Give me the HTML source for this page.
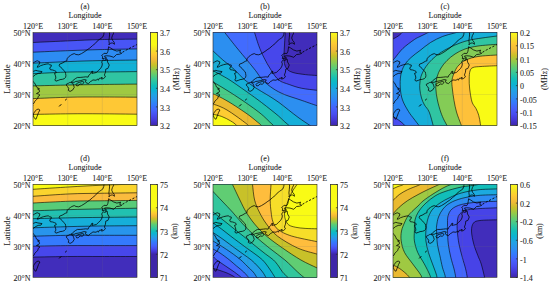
<!DOCTYPE html>
<html><head><meta charset="utf-8"><style>
html,body{margin:0;padding:0;background:#fff;width:550px;height:286px;overflow:hidden}
svg{display:block}
.t{font-family:"Liberation Serif",serif;font-size:8px;fill:#262626;stroke:#262626;stroke-width:0.08px}
</style></head><body>
<svg width="550" height="286" viewBox="0 0 550 286">
<rect width="550" height="286" fill="#fff"/>
<clipPath id="ca"><rect x="33" y="32.5" width="104" height="93"/></clipPath>
<g clip-path="url(#ca)">
<rect x="33" y="32.5" width="104" height="93" fill="#412dbb"/>
<path d="M29 42.68C29.67 42.65 26.17 42.81 33 42.5C39.83 42.19 58.83 41.28 70 40.8C81.17 40.32 88.83 39.88 100 39.6C111.17 39.32 130.17 39.19 137 39.1C143.83 39.01 140.33 39.05 141 39.05L141 130L29 130Z" fill="#4855f6"/>
<path d="M29 52.37C29.67 52.34 26.17 52.5 33 52.2C39.83 51.9 58.83 51.03 70 50.6C81.17 50.17 88.83 49.88 100 49.6C111.17 49.32 130.17 49.03 137 48.9C143.83 48.77 140.33 48.84 141 48.82L141 130L29 130Z" fill="#2d8cf3"/>
<path d="M29 63.38C29.67 63.35 26.17 63.51 33 63.2C39.83 62.89 58.83 61.93 70 61.5C81.17 61.07 88.83 60.85 100 60.6C111.17 60.35 130.17 60.11 137 60C143.83 59.89 140.33 59.95 141 59.94L141 130L29 130Z" fill="#11b1d6"/>
<path d="M29 73.88C29.67 73.85 26.17 74.01 33 73.7C39.83 73.39 58.83 72.28 70 72C81.17 71.72 88.83 72.07 100 72C111.17 71.93 130.17 71.67 137 71.6C143.83 71.53 140.33 71.56 141 71.56L141 130L29 130Z" fill="#30c5a2"/>
<path d="M29 86C29.67 85.98 26.17 86.07 33 85.9C39.83 85.73 58.83 85.23 70 85C81.17 84.77 88.83 84.65 100 84.5C111.17 84.35 130.17 84.17 137 84.1C143.83 84.03 140.33 84.06 141 84.06L141 130L29 130Z" fill="#9fc942"/>
<path d="M29 98.75C29.67 98.73 26.17 98.86 33 98.6C39.83 98.34 58.83 97.47 70 97.2C81.17 96.93 88.83 97 100 97C111.17 97 130.17 97.16 137 97.2C143.83 97.24 140.33 97.22 141 97.22L141 130L29 130Z" fill="#fec835"/>
<path d="M29 114.46C29.67 114.45 26.17 114.51 33 114.4C39.83 114.29 58.83 113.9 70 113.8C81.17 113.7 88.83 113.73 100 113.8C111.17 113.87 130.17 114.13 137 114.2C143.83 114.27 140.33 114.24 141 114.24L141 130L29 130Z" fill="#f9fb15"/>
<path d="M29 42.68C29.67 42.65 26.17 42.81 33 42.5C39.83 42.19 58.83 41.28 70 40.8C81.17 40.32 88.83 39.88 100 39.6C111.17 39.32 130.17 39.19 137 39.1C143.83 39.01 140.33 39.05 141 39.05M29 52.37C29.67 52.34 26.17 52.5 33 52.2C39.83 51.9 58.83 51.03 70 50.6C81.17 50.17 88.83 49.88 100 49.6C111.17 49.32 130.17 49.03 137 48.9C143.83 48.77 140.33 48.84 141 48.82M29 63.38C29.67 63.35 26.17 63.51 33 63.2C39.83 62.89 58.83 61.93 70 61.5C81.17 61.07 88.83 60.85 100 60.6C111.17 60.35 130.17 60.11 137 60C143.83 59.89 140.33 59.95 141 59.94M29 73.88C29.67 73.85 26.17 74.01 33 73.7C39.83 73.39 58.83 72.28 70 72C81.17 71.72 88.83 72.07 100 72C111.17 71.93 130.17 71.67 137 71.6C143.83 71.53 140.33 71.56 141 71.56M29 86C29.67 85.98 26.17 86.07 33 85.9C39.83 85.73 58.83 85.23 70 85C81.17 84.77 88.83 84.65 100 84.5C111.17 84.35 130.17 84.17 137 84.1C143.83 84.03 140.33 84.06 141 84.06M29 98.75C29.67 98.73 26.17 98.86 33 98.6C39.83 98.34 58.83 97.47 70 97.2C81.17 96.93 88.83 97 100 97C111.17 97 130.17 97.16 137 97.2C143.83 97.24 140.33 97.22 141 97.22M29 114.46C29.67 114.45 26.17 114.51 33 114.4C39.83 114.29 58.83 113.9 70 113.8C81.17 113.7 88.83 113.73 100 113.8C111.17 113.87 130.17 114.13 137 114.2C143.83 114.27 140.33 114.24 141 114.24" fill="none" stroke="#000" stroke-width="0.7" stroke-opacity="0.85"/>
<path d="M67.67 32.5V125.5M102.33 32.5V125.5M33 63.5H137M33 94.5H137" stroke="#707070" stroke-width="0.5" stroke-opacity="0.3" fill="none"/>
<path d="M29.53 108.76L31.61 107.83L31.27 106.28L33 105.35L32.31 104.11L34.04 103.18L34.73 101.32L36.47 99.77L37.85 98.22L38.2 96.36L39.93 95.12L38.2 93.88L36.47 93.57L39.59 91.71L39.24 90.16L37.51 88.92L39.59 88.92L36.47 87.06L35.77 85.2L34.39 82.72L31.96 80.55L30.23 79.62M31.27 77.45L33 76.52L34.04 75.9L35.43 74.66L38.2 73.42L40.97 73.11L42.01 71.56L39.93 71.25L37.85 70.94L35.77 70.32L33.69 71.25L32.31 72.18L29.53 72.49M29.53 65.05L32.31 63.5L34.73 61.95L37.16 60.71L39.93 61.95L39.24 64.12L38.2 65.36L37.16 67.22L38.55 66.91L40.63 65.67L43.4 64.74L46.17 64.12L48.25 63.81L49.64 64.74L51.37 65.05L51.03 66.91L49.64 67.84L50.33 69.7L52.76 70.01L54.49 70.63L55.88 71.25L56.23 72.8L54.49 73.42L55.53 75.9L55.88 78.07L54.84 79.93L55.88 81.17L58.65 80.24L60.04 79.62L62.47 79.31L64.2 78.69L65.59 77.45L65.93 75.59L65.59 73.42L65.24 71.87L63.51 70.32L62.12 68.46L60.04 66.6L59 65.67L59.69 64.12L62.12 63.19L65.24 61.33L66.97 60.71L66.97 58.85L69.05 56.37L70.44 55.44L71.83 54.51L74.25 53.58L75.99 54.51L78.76 54.82L81.53 53.58L85 51.41L87.08 49.86L89.85 48L92.63 45.52L95.4 43.35L97.13 41.18L99.56 39.32L102.68 37.15L103.72 34.67L104.07 32.5L104.76 30.02M108.92 30.02L109.61 34.05L109.27 37.77L108.92 40.87L109.27 43.35L108.92 44.9L110.65 43.04L112.73 43.04L114.47 44.28L114.12 42.11L112.73 40.56L111.69 38.08L112.39 35.6L113.43 33.74L113.77 30.02M102.33 58.85L102.68 56.68L101.64 55.44L103.37 54.2L104.07 53.27L106.84 53.58L107.88 51.41L108.23 49.55L108.57 46.76L110.65 48L113.43 49.86L116.89 51.1L120.71 50.17L119.67 52.34L121.75 53.27L119.67 54.2L116.55 54.51L113.77 57.3L109.96 56.06L106.49 55.75L104.41 56.06L105.45 57.3L106.49 57.92L104.41 58.23ZM107.19 59.16L107.53 61.95L109.27 65.05L107.88 68.46L105.8 69.08L105.45 72.18L104.41 74.97L105.45 76.83L103.72 78.38L101.64 79.15L101.99 77.14L101.29 78.07L99.21 78.38L98.35 80.24L97.48 79L96.09 80.24L92.63 79.93L91.59 81.17L90.55 81.48L88.47 83.65L86.04 82.72L85.35 81.17L86.39 79.93L83.96 79.62L80.84 80.55L78.07 81.17L75.64 81.48L74.25 82.25L71.13 82.25L72.52 80.86L75.29 78.69L77.37 77.45L80.15 77.45L83.27 77.14L85.69 76.83L88.12 77.14L88.81 75.28L90.89 73.42L91.59 71.56L92.97 71.25L91.93 73.42L93.67 73.11L96.44 72.49L98.52 70.32L100.6 68.46L101.99 65.98L102.33 63.81L101.64 61.95L103.37 59.78L104.76 60.4L106.15 59.78L105.45 58.85ZM70.79 82.41L72.87 83.34L73.56 85.2L74.25 87.37L72.52 90.16L70.09 91.4L68.36 90.47L68.71 88.3L67.67 86.75L66.63 85.82L66.28 84.27L68.36 83.34L69.75 82.41ZM75.99 84.58L77.37 83.03L79.8 82.25L82.23 81.48L83.96 82.1L83.96 82.72L82.23 84.27L80.15 83.96L78.07 85.82L76.68 85.82ZM38.2 109.07L39.93 110L38.55 112.48L37.16 116.2L35.95 119.3L34.04 117.75L33.35 115.58L33.69 113.1L35.43 110.93L36.47 109.69Z" fill="none" stroke="#000" stroke-width="0.75" stroke-linejoin="round"/>
<path d="M122.44 52.34L126.6 49.86L131.45 47.38L135.61 45.21L140.47 43.04" fill="none" stroke="#000" stroke-width="0.9" stroke-dasharray="2.2 1.6"/>
<path d="M59.44 106.13L60.99 104.57M65.47 100L66.39 99.23" fill="none" stroke="#000" stroke-width="1" stroke-linecap="round"/>
</g>
<rect x="33" y="32.5" width="104" height="93" fill="none" stroke="#262626" stroke-width="0.6"/>
<linearGradient id="ga" x1="0" y1="1" x2="0" y2="0"><stop offset="0" stop-color="#3e26a8"/><stop offset="0.05" stop-color="#4536d5"/><stop offset="0.11" stop-color="#484cef"/><stop offset="0.16" stop-color="#4562fc"/><stop offset="0.22" stop-color="#347afd"/><stop offset="0.27" stop-color="#2c90f0"/><stop offset="0.33" stop-color="#21a3e3"/><stop offset="0.38" stop-color="#0cb3d3"/><stop offset="0.43" stop-color="#12beb9"/><stop offset="0.49" stop-color="#34c79c"/><stop offset="0.54" stop-color="#5ccc76"/><stop offset="0.6" stop-color="#94ca4a"/><stop offset="0.65" stop-color="#c8c129"/><stop offset="0.71" stop-color="#f1ba37"/><stop offset="0.76" stop-color="#feca33"/><stop offset="0.82" stop-color="#f5e327"/><stop offset="0.87" stop-color="#f9fb15"/><stop offset="1" stop-color="#f9fb15"/></linearGradient>
<rect x="150.5" y="32.5" width="7" height="93" fill="url(#ga)" stroke="#333" stroke-width="0.8"/>
<text x="160.1" y="129.1" class="t">3.2</text>
<text x="160.1" y="110.5" class="t">3.3</text>
<text x="160.1" y="91.9" class="t">3.4</text>
<text x="160.1" y="73.3" class="t">3.5</text>
<text x="160.1" y="54.7" class="t">3.6</text>
<text x="160.1" y="36.1" class="t">3.7</text>
<path d="M157.5 125.5h-1.6M157.5 106.9h-1.6M157.5 88.3h-1.6M157.5 69.7h-1.6M157.5 51.1h-1.6M157.5 32.5h-1.6" stroke="#262626" stroke-width="0.7"/>
<text transform="translate(178.8 79) rotate(-90)" text-anchor="middle" class="t">(MHz)</text>
<text x="85" y="8.9" text-anchor="middle" class="t">(a)</text>
<text x="85" y="17.8" text-anchor="middle" class="t">Longitude</text>
<text x="33" y="28.8" text-anchor="middle" class="t">120°E</text>
<text x="67.67" y="28.8" text-anchor="middle" class="t">130°E</text>
<text x="102.33" y="28.8" text-anchor="middle" class="t">140°E</text>
<text x="137" y="28.8" text-anchor="middle" class="t">150°E</text>
<text x="30.6" y="36.35" text-anchor="end" class="t">50°N</text>
<text x="30.6" y="67.35" text-anchor="end" class="t">40°N</text>
<text x="30.6" y="98.35" text-anchor="end" class="t">30°N</text>
<text x="30.6" y="129.35" text-anchor="end" class="t">20°N</text>
<text transform="translate(10.2 79) rotate(-90)" text-anchor="middle" class="t" style="font-size:8.8px">Latitude</text>
<clipPath id="cb"><rect x="213" y="32.5" width="104" height="93"/></clipPath>
<g clip-path="url(#cb)">
<rect x="213" y="32.5" width="104" height="93" fill="#412dbb"/>
<path d="M285.5 29C285.33 31.67 284.75 39.83 284.5 45C284.25 50.17 283.67 56.08 284 60C284.33 63.92 285 66.42 286.5 68.5C288 70.58 289.85 71.48 293 72.5C296.15 73.52 301.4 74.1 305.4 74.6C309.4 75.1 314.4 75.32 317 75.5C319.6 75.68 320.33 75.67 321 75.7L321 131L209 131L209 27L285.5 27Z" fill="#4747eb"/>
<path d="M253.5 29C254.37 31.75 256.95 40.72 258.7 45.5C260.45 50.28 261.95 53.62 264 57.7C266.05 61.78 268.55 66.28 271 70C273.45 73.72 275.67 77.58 278.7 80C281.73 82.42 285.43 83.13 289.2 84.5C292.97 85.87 296.67 87.23 301.3 88.2C305.93 89.17 313.72 89.87 317 90.3C320.28 90.73 320.33 90.72 321 90.8L321 131L209 131L209 27L253.5 27Z" fill="#426bfe"/>
<path d="M222 29C224.33 31.97 231.73 41.5 236 46.8C240.27 52.1 244.35 56.85 247.6 60.8C250.85 64.75 253 67.3 255.5 70.5C258 73.7 259.68 77 262.6 80C265.52 83 269.37 86.08 273 88.5C276.63 90.92 279.9 92.62 284.4 94.5C288.9 96.38 294.57 97.93 300 99.8C305.43 101.67 313.5 104.5 317 105.7C320.5 106.9 320.33 106.78 321 107L321 131L209 131L209 27L222 27Z" fill="#2c8ff0"/>
<path d="M209 47C209.67 47.65 210.68 48.73 213 50.9C215.32 53.07 219.33 56.9 222.9 60C226.47 63.1 230.93 66.33 234.4 69.5C237.87 72.67 240.27 76 243.7 79C247.13 82 250.9 84.75 255 87.5C259.1 90.25 264.3 93 268.3 95.5C272.3 98 275.62 100.08 279 102.5C282.38 104.92 285.27 107.42 288.6 110C291.93 112.58 295.43 115.42 299 118C302.57 120.58 307.67 123.83 310 125.5C312.33 127.17 312.5 127.58 313 128L321 131L209 131Z" fill="#16afd9"/>
<path d="M209 67.5C209.67 68 210.83 69.17 213 70.5C215.17 71.83 218.83 73.67 222 75.5C225.17 77.33 227.12 78.25 232 81.5C236.88 84.75 246.38 91.5 251.3 95C256.22 98.5 258.2 100 261.5 102.5C264.8 105 268.27 107.75 271.1 110C273.93 112.25 276.2 114 278.5 116C280.8 118 283.15 120.42 284.9 122C286.65 123.58 287.98 124.5 289 125.5C290.02 126.5 290.67 127.58 291 128L209 131Z" fill="#21c1b0"/>
<path d="M209 80C209.67 80.33 210.5 80.58 213 82C215.5 83.42 220.45 86.33 224 88.5C227.55 90.67 230.72 92.67 234.3 95C237.88 97.33 241.88 100 245.5 102.5C249.12 105 253 107.75 256 110C259 112.25 261.22 114 263.5 116C265.78 118 268.03 120.42 269.7 122C271.37 123.58 272.62 124.5 273.5 125.5C274.38 126.5 274.75 127.58 275 128L209 131Z" fill="#48cb86"/>
<path d="M209 93.5C209.67 93.58 211.67 93.67 213 94C214.33 94.33 214.33 94.17 217 95.5C219.67 96.83 224.93 99.58 229 102C233.07 104.42 237.9 107.67 241.4 110C244.9 112.33 247.33 114 250 116C252.67 118 255.48 120.42 257.4 122C259.32 123.58 260.57 124.5 261.5 125.5C262.43 126.5 262.75 127.58 263 128L209 131Z" fill="#eaba30"/>
<path d="M209 103.5C209.67 103.6 211.17 103.6 213 104.1C214.83 104.6 217.67 105.52 220 106.5C222.33 107.48 224.33 108.42 227 110C229.67 111.58 233.13 114 236 116C238.87 118 242.12 120.42 244.2 122C246.28 123.58 247.53 124.5 248.5 125.5C249.47 126.5 249.75 127.58 250 128L209 131Z" fill="#fdcc32"/>
<path d="M209 114C209.67 114.05 210.87 113.88 213 114.3C215.13 114.72 218.87 115.4 221.8 116.5C224.73 117.6 228.15 119.43 230.6 120.9C233.05 122.37 235.35 123.95 236.5 125.3C237.65 126.65 237.33 128.38 237.5 129L209 131Z" fill="#f9fb15"/>
<path d="M285.5 29C285.33 31.67 284.75 39.83 284.5 45C284.25 50.17 283.67 56.08 284 60C284.33 63.92 285 66.42 286.5 68.5C288 70.58 289.85 71.48 293 72.5C296.15 73.52 301.4 74.1 305.4 74.6C309.4 75.1 314.4 75.32 317 75.5C319.6 75.68 320.33 75.67 321 75.7M253.5 29C254.37 31.75 256.95 40.72 258.7 45.5C260.45 50.28 261.95 53.62 264 57.7C266.05 61.78 268.55 66.28 271 70C273.45 73.72 275.67 77.58 278.7 80C281.73 82.42 285.43 83.13 289.2 84.5C292.97 85.87 296.67 87.23 301.3 88.2C305.93 89.17 313.72 89.87 317 90.3C320.28 90.73 320.33 90.72 321 90.8M222 29C224.33 31.97 231.73 41.5 236 46.8C240.27 52.1 244.35 56.85 247.6 60.8C250.85 64.75 253 67.3 255.5 70.5C258 73.7 259.68 77 262.6 80C265.52 83 269.37 86.08 273 88.5C276.63 90.92 279.9 92.62 284.4 94.5C288.9 96.38 294.57 97.93 300 99.8C305.43 101.67 313.5 104.5 317 105.7C320.5 106.9 320.33 106.78 321 107M209 47C209.67 47.65 210.68 48.73 213 50.9C215.32 53.07 219.33 56.9 222.9 60C226.47 63.1 230.93 66.33 234.4 69.5C237.87 72.67 240.27 76 243.7 79C247.13 82 250.9 84.75 255 87.5C259.1 90.25 264.3 93 268.3 95.5C272.3 98 275.62 100.08 279 102.5C282.38 104.92 285.27 107.42 288.6 110C291.93 112.58 295.43 115.42 299 118C302.57 120.58 307.67 123.83 310 125.5C312.33 127.17 312.5 127.58 313 128M209 67.5C209.67 68 210.83 69.17 213 70.5C215.17 71.83 218.83 73.67 222 75.5C225.17 77.33 227.12 78.25 232 81.5C236.88 84.75 246.38 91.5 251.3 95C256.22 98.5 258.2 100 261.5 102.5C264.8 105 268.27 107.75 271.1 110C273.93 112.25 276.2 114 278.5 116C280.8 118 283.15 120.42 284.9 122C286.65 123.58 287.98 124.5 289 125.5C290.02 126.5 290.67 127.58 291 128M209 80C209.67 80.33 210.5 80.58 213 82C215.5 83.42 220.45 86.33 224 88.5C227.55 90.67 230.72 92.67 234.3 95C237.88 97.33 241.88 100 245.5 102.5C249.12 105 253 107.75 256 110C259 112.25 261.22 114 263.5 116C265.78 118 268.03 120.42 269.7 122C271.37 123.58 272.62 124.5 273.5 125.5C274.38 126.5 274.75 127.58 275 128M209 93.5C209.67 93.58 211.67 93.67 213 94C214.33 94.33 214.33 94.17 217 95.5C219.67 96.83 224.93 99.58 229 102C233.07 104.42 237.9 107.67 241.4 110C244.9 112.33 247.33 114 250 116C252.67 118 255.48 120.42 257.4 122C259.32 123.58 260.57 124.5 261.5 125.5C262.43 126.5 262.75 127.58 263 128M209 103.5C209.67 103.6 211.17 103.6 213 104.1C214.83 104.6 217.67 105.52 220 106.5C222.33 107.48 224.33 108.42 227 110C229.67 111.58 233.13 114 236 116C238.87 118 242.12 120.42 244.2 122C246.28 123.58 247.53 124.5 248.5 125.5C249.47 126.5 249.75 127.58 250 128M209 114C209.67 114.05 210.87 113.88 213 114.3C215.13 114.72 218.87 115.4 221.8 116.5C224.73 117.6 228.15 119.43 230.6 120.9C233.05 122.37 235.35 123.95 236.5 125.3C237.65 126.65 237.33 128.38 237.5 129" fill="none" stroke="#000" stroke-width="0.7" stroke-opacity="0.85"/>
<path d="M247.67 32.5V125.5M282.33 32.5V125.5M213 63.5H317M213 94.5H317" stroke="#707070" stroke-width="0.5" stroke-opacity="0.3" fill="none"/>
<path d="M209.53 108.76L211.61 107.83L211.27 106.28L213 105.35L212.31 104.11L214.04 103.18L214.73 101.32L216.47 99.77L217.85 98.22L218.2 96.36L219.93 95.12L218.2 93.88L216.47 93.57L219.59 91.71L219.24 90.16L217.51 88.92L219.59 88.92L216.47 87.06L215.77 85.2L214.39 82.72L211.96 80.55L210.23 79.62M211.27 77.45L213 76.52L214.04 75.9L215.43 74.66L218.2 73.42L220.97 73.11L222.01 71.56L219.93 71.25L217.85 70.94L215.77 70.32L213.69 71.25L212.31 72.18L209.53 72.49M209.53 65.05L212.31 63.5L214.73 61.95L217.16 60.71L219.93 61.95L219.24 64.12L218.2 65.36L217.16 67.22L218.55 66.91L220.63 65.67L223.4 64.74L226.17 64.12L228.25 63.81L229.64 64.74L231.37 65.05L231.03 66.91L229.64 67.84L230.33 69.7L232.76 70.01L234.49 70.63L235.88 71.25L236.23 72.8L234.49 73.42L235.53 75.9L235.88 78.07L234.84 79.93L235.88 81.17L238.65 80.24L240.04 79.62L242.47 79.31L244.2 78.69L245.59 77.45L245.93 75.59L245.59 73.42L245.24 71.87L243.51 70.32L242.12 68.46L240.04 66.6L239 65.67L239.69 64.12L242.12 63.19L245.24 61.33L246.97 60.71L246.97 58.85L249.05 56.37L250.44 55.44L251.83 54.51L254.25 53.58L255.99 54.51L258.76 54.82L261.53 53.58L265 51.41L267.08 49.86L269.85 48L272.63 45.52L275.4 43.35L277.13 41.18L279.56 39.32L282.68 37.15L283.72 34.67L284.07 32.5L284.76 30.02M288.92 30.02L289.61 34.05L289.27 37.77L288.92 40.87L289.27 43.35L288.92 44.9L290.65 43.04L292.73 43.04L294.47 44.28L294.12 42.11L292.73 40.56L291.69 38.08L292.39 35.6L293.43 33.74L293.77 30.02M282.33 58.85L282.68 56.68L281.64 55.44L283.37 54.2L284.07 53.27L286.84 53.58L287.88 51.41L288.23 49.55L288.57 46.76L290.65 48L293.43 49.86L296.89 51.1L300.71 50.17L299.67 52.34L301.75 53.27L299.67 54.2L296.55 54.51L293.77 57.3L289.96 56.06L286.49 55.75L284.41 56.06L285.45 57.3L286.49 57.92L284.41 58.23ZM287.19 59.16L287.53 61.95L289.27 65.05L287.88 68.46L285.8 69.08L285.45 72.18L284.41 74.97L285.45 76.83L283.72 78.38L281.64 79.15L281.99 77.14L281.29 78.07L279.21 78.38L278.35 80.24L277.48 79L276.09 80.24L272.63 79.93L271.59 81.17L270.55 81.48L268.47 83.65L266.04 82.72L265.35 81.17L266.39 79.93L263.96 79.62L260.84 80.55L258.07 81.17L255.64 81.48L254.25 82.25L251.13 82.25L252.52 80.86L255.29 78.69L257.37 77.45L260.15 77.45L263.27 77.14L265.69 76.83L268.12 77.14L268.81 75.28L270.89 73.42L271.59 71.56L272.97 71.25L271.93 73.42L273.67 73.11L276.44 72.49L278.52 70.32L280.6 68.46L281.99 65.98L282.33 63.81L281.64 61.95L283.37 59.78L284.76 60.4L286.15 59.78L285.45 58.85ZM250.79 82.41L252.87 83.34L253.56 85.2L254.25 87.37L252.52 90.16L250.09 91.4L248.36 90.47L248.71 88.3L247.67 86.75L246.63 85.82L246.28 84.27L248.36 83.34L249.75 82.41ZM255.99 84.58L257.37 83.03L259.8 82.25L262.23 81.48L263.96 82.1L263.96 82.72L262.23 84.27L260.15 83.96L258.07 85.82L256.68 85.82ZM218.2 109.07L219.93 110L218.55 112.48L217.16 116.2L215.95 119.3L214.04 117.75L213.35 115.58L213.69 113.1L215.43 110.93L216.47 109.69Z" fill="none" stroke="#000" stroke-width="0.75" stroke-linejoin="round"/>
<path d="M302.44 52.34L306.6 49.86L311.45 47.38L315.61 45.21L320.47 43.04" fill="none" stroke="#000" stroke-width="0.9" stroke-dasharray="2.2 1.6"/>
<path d="M239.44 106.13L240.99 104.57M245.47 100L246.39 99.23" fill="none" stroke="#000" stroke-width="1" stroke-linecap="round"/>
</g>
<rect x="213" y="32.5" width="104" height="93" fill="none" stroke="#262626" stroke-width="0.6"/>
<linearGradient id="gb" x1="0" y1="1" x2="0" y2="0"><stop offset="0" stop-color="#3e26a8"/><stop offset="0.06" stop-color="#4536d5"/><stop offset="0.12" stop-color="#484cef"/><stop offset="0.19" stop-color="#4562fc"/><stop offset="0.25" stop-color="#347afd"/><stop offset="0.31" stop-color="#2c90f0"/><stop offset="0.38" stop-color="#21a3e3"/><stop offset="0.44" stop-color="#0cb3d3"/><stop offset="0.5" stop-color="#12beb9"/><stop offset="0.56" stop-color="#34c79c"/><stop offset="0.62" stop-color="#5ccc76"/><stop offset="0.69" stop-color="#94ca4a"/><stop offset="0.75" stop-color="#c8c129"/><stop offset="0.81" stop-color="#f1ba37"/><stop offset="0.88" stop-color="#feca33"/><stop offset="0.94" stop-color="#f5e327"/><stop offset="1" stop-color="#f9fb15"/></linearGradient>
<rect x="330.5" y="32.5" width="7" height="93" fill="url(#gb)" stroke="#333" stroke-width="0.8"/>
<text x="340.1" y="129.1" class="t">3.2</text>
<text x="340.1" y="110.5" class="t">3.3</text>
<text x="340.1" y="91.9" class="t">3.4</text>
<text x="340.1" y="73.3" class="t">3.5</text>
<text x="340.1" y="54.7" class="t">3.6</text>
<text x="340.1" y="36.1" class="t">3.7</text>
<path d="M337.5 125.5h-1.6M337.5 106.9h-1.6M337.5 88.3h-1.6M337.5 69.7h-1.6M337.5 51.1h-1.6M337.5 32.5h-1.6" stroke="#262626" stroke-width="0.7"/>
<text transform="translate(359.6 79) rotate(-90)" text-anchor="middle" class="t">(MHz)</text>
<text x="265" y="8.9" text-anchor="middle" class="t">(b)</text>
<text x="265" y="17.8" text-anchor="middle" class="t">Longitude</text>
<text x="213" y="28.8" text-anchor="middle" class="t">120°E</text>
<text x="247.67" y="28.8" text-anchor="middle" class="t">130°E</text>
<text x="282.33" y="28.8" text-anchor="middle" class="t">140°E</text>
<text x="317" y="28.8" text-anchor="middle" class="t">150°E</text>
<text x="210.6" y="36.35" text-anchor="end" class="t">50°N</text>
<text x="210.6" y="67.35" text-anchor="end" class="t">40°N</text>
<text x="210.6" y="98.35" text-anchor="end" class="t">30°N</text>
<text x="210.6" y="129.35" text-anchor="end" class="t">20°N</text>
<text transform="translate(190.2 79) rotate(-90)" text-anchor="middle" class="t" style="font-size:8.8px">Latitude</text>
<clipPath id="cc"><rect x="393" y="32.5" width="104" height="93"/></clipPath>
<g clip-path="url(#cc)">
<rect x="393" y="32.5" width="104" height="93" fill="#412dbb"/>
<path d="M406 28C404.83 29.25 401.83 33.33 399 35.5C396.17 37.67 390.67 40.08 389 41L389 131L501 131L501 28Z" fill="#484ef1"/>
<path d="M432 29C431.33 29.58 430 31.25 428 32.5C426 33.75 422.27 35.33 420 36.5C417.73 37.67 417.25 37.52 414.4 39.5C411.55 41.48 406.2 45.27 402.9 48.4C399.6 51.53 396.92 55.62 394.6 58.3C392.28 60.98 389.93 63.47 389 64.5L389 131L501 131L501 28Z" fill="#2d88f6"/>
<path d="M389 114.5C389.67 114.87 391.43 115.8 393 116.7C394.57 117.6 396.42 118.43 398.4 119.9C400.38 121.37 403.63 123.98 404.9 125.5C406.17 127.02 405.82 128.42 406 129L389 131Z" fill="#484ef1"/>
<path d="M469 29C466.67 29.65 459.38 31.67 455 32.9C450.62 34.13 446.78 34.8 442.7 36.4C438.62 38 434.28 40.15 430.5 42.5C426.72 44.85 423.25 48 420 50.5C416.75 53 413.58 55.08 411 57.5C408.42 59.92 406.2 62.08 404.5 65C402.8 67.92 401.5 71.17 400.8 75C400.1 78.83 400.02 83.83 400.3 88C400.58 92.17 401.13 96.08 402.5 100C403.87 103.92 406.58 108.33 408.5 111.5C410.42 114.67 412.2 116.58 414 119C415.8 121.42 418.22 124.33 419.3 126C420.38 127.67 420.3 128.5 420.5 129L420.5 131L503 131L503 27L469 27Z" fill="#16afd9"/>
<path d="M501 35.5C500.33 35.58 500.17 35.58 497 36C493.83 36.42 486.5 37.33 482 38C477.5 38.67 473.67 39.17 470 40C466.33 40.83 463.38 41.75 460 43C456.62 44.25 453.03 45.83 449.7 47.5C446.37 49.17 442.95 51 440 53C437.05 55 434.33 57.25 432 59.5C429.67 61.75 427.75 63.92 426 66.5C424.25 69.08 422.5 72.42 421.5 75C420.5 77.58 420.28 79.67 420 82C419.72 84.33 419.55 86.33 419.8 89C420.05 91.67 420.72 95.33 421.5 98C422.28 100.67 423.22 102.67 424.5 105C425.78 107.33 427.73 108.5 429.2 112C430.67 115.5 432.5 123.17 433.3 126C434.1 128.83 433.88 128.5 434 129L434 131L503 131L503 27L501 27Z" fill="#30c5a2"/>
<path d="M501 44C500.33 44.05 500.83 43.97 497 44.3C493.17 44.63 483.33 45.22 478 46C472.67 46.78 468.83 47.67 465 49C461.17 50.33 458 52.08 455 54C452 55.92 449.33 58.17 447 60.5C444.67 62.83 442.67 65.25 441 68C439.33 70.75 437.87 73.67 437 77C436.13 80.33 435.73 84.17 435.8 88C435.87 91.83 436.58 96 437.4 100C438.22 104 439.6 108.67 440.7 112C441.8 115.33 442.95 117.75 444 120C445.05 122.25 446.33 124 447 125.5C447.67 127 447.83 128.42 448 129L448 131L503 131L503 27L501 27Z" fill="#84cc56"/>
<path d="M501 55C500.33 55 500.83 54.75 497 55C493.17 55.25 483.17 55.67 478 56.5C472.83 57.33 469.17 58.58 466 60C462.83 61.42 460.83 63.17 459 65C457.17 66.83 456.17 68.5 455 71C453.83 73.5 452.43 77 452 80C451.57 83 452.07 85.6 452.4 89C452.73 92.4 453.32 96.57 454 100.4C454.68 104.23 455.4 108.17 456.5 112C457.6 115.83 459.77 121.15 460.6 123.4C461.43 125.65 461.27 124.57 461.5 125.5C461.73 126.43 461.92 128.42 462 129L462 131L503 131L503 27L501 27Z" fill="#fec13a"/>
<path d="M501 65.5C500.33 65.53 500.33 65.53 497 65.7C493.67 65.87 485 66.2 481 66.5C477 66.8 474.83 66.75 473 67.5C471.17 68.25 470.63 69.08 470 71C469.37 72.92 469.25 76 469.2 79C469.15 82 469.23 85.17 469.7 89C470.17 92.83 470.95 98.73 472 102C473.05 105.27 474.88 106.4 476 108.6C477.12 110.8 477.98 112.73 478.7 115.2C479.42 117.67 479.97 121.1 480.3 123.4C480.63 125.7 480.63 128.07 480.7 129L480.7 131L503 131L503 27L501 27Z" fill="#f9fb15"/>
<path d="M406 28C404.83 29.25 401.83 33.33 399 35.5C396.17 37.67 390.67 40.08 389 41M432 29C431.33 29.58 430 31.25 428 32.5C426 33.75 422.27 35.33 420 36.5C417.73 37.67 417.25 37.52 414.4 39.5C411.55 41.48 406.2 45.27 402.9 48.4C399.6 51.53 396.92 55.62 394.6 58.3C392.28 60.98 389.93 63.47 389 64.5M389 114.5C389.67 114.87 391.43 115.8 393 116.7C394.57 117.6 396.42 118.43 398.4 119.9C400.38 121.37 403.63 123.98 404.9 125.5C406.17 127.02 405.82 128.42 406 129M469 29C466.67 29.65 459.38 31.67 455 32.9C450.62 34.13 446.78 34.8 442.7 36.4C438.62 38 434.28 40.15 430.5 42.5C426.72 44.85 423.25 48 420 50.5C416.75 53 413.58 55.08 411 57.5C408.42 59.92 406.2 62.08 404.5 65C402.8 67.92 401.5 71.17 400.8 75C400.1 78.83 400.02 83.83 400.3 88C400.58 92.17 401.13 96.08 402.5 100C403.87 103.92 406.58 108.33 408.5 111.5C410.42 114.67 412.2 116.58 414 119C415.8 121.42 418.22 124.33 419.3 126C420.38 127.67 420.3 128.5 420.5 129M501 35.5C500.33 35.58 500.17 35.58 497 36C493.83 36.42 486.5 37.33 482 38C477.5 38.67 473.67 39.17 470 40C466.33 40.83 463.38 41.75 460 43C456.62 44.25 453.03 45.83 449.7 47.5C446.37 49.17 442.95 51 440 53C437.05 55 434.33 57.25 432 59.5C429.67 61.75 427.75 63.92 426 66.5C424.25 69.08 422.5 72.42 421.5 75C420.5 77.58 420.28 79.67 420 82C419.72 84.33 419.55 86.33 419.8 89C420.05 91.67 420.72 95.33 421.5 98C422.28 100.67 423.22 102.67 424.5 105C425.78 107.33 427.73 108.5 429.2 112C430.67 115.5 432.5 123.17 433.3 126C434.1 128.83 433.88 128.5 434 129M501 44C500.33 44.05 500.83 43.97 497 44.3C493.17 44.63 483.33 45.22 478 46C472.67 46.78 468.83 47.67 465 49C461.17 50.33 458 52.08 455 54C452 55.92 449.33 58.17 447 60.5C444.67 62.83 442.67 65.25 441 68C439.33 70.75 437.87 73.67 437 77C436.13 80.33 435.73 84.17 435.8 88C435.87 91.83 436.58 96 437.4 100C438.22 104 439.6 108.67 440.7 112C441.8 115.33 442.95 117.75 444 120C445.05 122.25 446.33 124 447 125.5C447.67 127 447.83 128.42 448 129M501 55C500.33 55 500.83 54.75 497 55C493.17 55.25 483.17 55.67 478 56.5C472.83 57.33 469.17 58.58 466 60C462.83 61.42 460.83 63.17 459 65C457.17 66.83 456.17 68.5 455 71C453.83 73.5 452.43 77 452 80C451.57 83 452.07 85.6 452.4 89C452.73 92.4 453.32 96.57 454 100.4C454.68 104.23 455.4 108.17 456.5 112C457.6 115.83 459.77 121.15 460.6 123.4C461.43 125.65 461.27 124.57 461.5 125.5C461.73 126.43 461.92 128.42 462 129M501 65.5C500.33 65.53 500.33 65.53 497 65.7C493.67 65.87 485 66.2 481 66.5C477 66.8 474.83 66.75 473 67.5C471.17 68.25 470.63 69.08 470 71C469.37 72.92 469.25 76 469.2 79C469.15 82 469.23 85.17 469.7 89C470.17 92.83 470.95 98.73 472 102C473.05 105.27 474.88 106.4 476 108.6C477.12 110.8 477.98 112.73 478.7 115.2C479.42 117.67 479.97 121.1 480.3 123.4C480.63 125.7 480.63 128.07 480.7 129" fill="none" stroke="#000" stroke-width="0.7" stroke-opacity="0.85"/>
<path d="M427.67 32.5V125.5M462.33 32.5V125.5M393 63.5H497M393 94.5H497" stroke="#707070" stroke-width="0.5" stroke-opacity="0.3" fill="none"/>
<path d="M389.53 108.76L391.61 107.83L391.27 106.28L393 105.35L392.31 104.11L394.04 103.18L394.73 101.32L396.47 99.77L397.85 98.22L398.2 96.36L399.93 95.12L398.2 93.88L396.47 93.57L399.59 91.71L399.24 90.16L397.51 88.92L399.59 88.92L396.47 87.06L395.77 85.2L394.39 82.72L391.96 80.55L390.23 79.62M391.27 77.45L393 76.52L394.04 75.9L395.43 74.66L398.2 73.42L400.97 73.11L402.01 71.56L399.93 71.25L397.85 70.94L395.77 70.32L393.69 71.25L392.31 72.18L389.53 72.49M389.53 65.05L392.31 63.5L394.73 61.95L397.16 60.71L399.93 61.95L399.24 64.12L398.2 65.36L397.16 67.22L398.55 66.91L400.63 65.67L403.4 64.74L406.17 64.12L408.25 63.81L409.64 64.74L411.37 65.05L411.03 66.91L409.64 67.84L410.33 69.7L412.76 70.01L414.49 70.63L415.88 71.25L416.23 72.8L414.49 73.42L415.53 75.9L415.88 78.07L414.84 79.93L415.88 81.17L418.65 80.24L420.04 79.62L422.47 79.31L424.2 78.69L425.59 77.45L425.93 75.59L425.59 73.42L425.24 71.87L423.51 70.32L422.12 68.46L420.04 66.6L419 65.67L419.69 64.12L422.12 63.19L425.24 61.33L426.97 60.71L426.97 58.85L429.05 56.37L430.44 55.44L431.83 54.51L434.25 53.58L435.99 54.51L438.76 54.82L441.53 53.58L445 51.41L447.08 49.86L449.85 48L452.63 45.52L455.4 43.35L457.13 41.18L459.56 39.32L462.68 37.15L463.72 34.67L464.07 32.5L464.76 30.02M468.92 30.02L469.61 34.05L469.27 37.77L468.92 40.87L469.27 43.35L468.92 44.9L470.65 43.04L472.73 43.04L474.47 44.28L474.12 42.11L472.73 40.56L471.69 38.08L472.39 35.6L473.43 33.74L473.77 30.02M462.33 58.85L462.68 56.68L461.64 55.44L463.37 54.2L464.07 53.27L466.84 53.58L467.88 51.41L468.23 49.55L468.57 46.76L470.65 48L473.43 49.86L476.89 51.1L480.71 50.17L479.67 52.34L481.75 53.27L479.67 54.2L476.55 54.51L473.77 57.3L469.96 56.06L466.49 55.75L464.41 56.06L465.45 57.3L466.49 57.92L464.41 58.23ZM467.19 59.16L467.53 61.95L469.27 65.05L467.88 68.46L465.8 69.08L465.45 72.18L464.41 74.97L465.45 76.83L463.72 78.38L461.64 79.15L461.99 77.14L461.29 78.07L459.21 78.38L458.35 80.24L457.48 79L456.09 80.24L452.63 79.93L451.59 81.17L450.55 81.48L448.47 83.65L446.04 82.72L445.35 81.17L446.39 79.93L443.96 79.62L440.84 80.55L438.07 81.17L435.64 81.48L434.25 82.25L431.13 82.25L432.52 80.86L435.29 78.69L437.37 77.45L440.15 77.45L443.27 77.14L445.69 76.83L448.12 77.14L448.81 75.28L450.89 73.42L451.59 71.56L452.97 71.25L451.93 73.42L453.67 73.11L456.44 72.49L458.52 70.32L460.6 68.46L461.99 65.98L462.33 63.81L461.64 61.95L463.37 59.78L464.76 60.4L466.15 59.78L465.45 58.85ZM430.79 82.41L432.87 83.34L433.56 85.2L434.25 87.37L432.52 90.16L430.09 91.4L428.36 90.47L428.71 88.3L427.67 86.75L426.63 85.82L426.28 84.27L428.36 83.34L429.75 82.41ZM435.99 84.58L437.37 83.03L439.8 82.25L442.23 81.48L443.96 82.1L443.96 82.72L442.23 84.27L440.15 83.96L438.07 85.82L436.68 85.82ZM398.2 109.07L399.93 110L398.55 112.48L397.16 116.2L395.95 119.3L394.04 117.75L393.35 115.58L393.69 113.1L395.43 110.93L396.47 109.69Z" fill="none" stroke="#000" stroke-width="0.75" stroke-linejoin="round"/>
<path d="M482.44 52.34L486.6 49.86L491.45 47.38L495.61 45.21L500.47 43.04" fill="none" stroke="#000" stroke-width="0.9" stroke-dasharray="2.2 1.6"/>
<path d="M419.44 106.13L420.99 104.57M425.47 100L426.39 99.23" fill="none" stroke="#000" stroke-width="1" stroke-linecap="round"/>
</g>
<rect x="393" y="32.5" width="104" height="93" fill="none" stroke="#262626" stroke-width="0.6"/>
<linearGradient id="gc" x1="0" y1="1" x2="0" y2="0"><stop offset="0" stop-color="#3e26a8"/><stop offset="0.06" stop-color="#4536d5"/><stop offset="0.12" stop-color="#484cef"/><stop offset="0.19" stop-color="#4562fc"/><stop offset="0.25" stop-color="#347afd"/><stop offset="0.31" stop-color="#2c90f0"/><stop offset="0.38" stop-color="#21a3e3"/><stop offset="0.44" stop-color="#0cb3d3"/><stop offset="0.5" stop-color="#12beb9"/><stop offset="0.56" stop-color="#34c79c"/><stop offset="0.62" stop-color="#5ccc76"/><stop offset="0.69" stop-color="#94ca4a"/><stop offset="0.75" stop-color="#c8c129"/><stop offset="0.81" stop-color="#f1ba37"/><stop offset="0.88" stop-color="#feca33"/><stop offset="0.94" stop-color="#f5e327"/><stop offset="1" stop-color="#f9fb15"/></linearGradient>
<rect x="510.5" y="32.5" width="7" height="93" fill="url(#gc)" stroke="#333" stroke-width="0.8"/>
<text x="520.1" y="129.1" class="t">-0.15</text>
<text x="520.1" y="115.81" class="t">-0.1</text>
<text x="520.1" y="102.53" class="t">-0.05</text>
<text x="520.1" y="89.24" class="t">0</text>
<text x="520.1" y="75.96" class="t">0.05</text>
<text x="520.1" y="62.67" class="t">0.1</text>
<text x="520.1" y="49.39" class="t">0.15</text>
<text x="520.1" y="36.1" class="t">0.2</text>
<path d="M517.5 125.5h-1.6M517.5 112.21h-1.6M517.5 98.93h-1.6M517.5 85.64h-1.6M517.5 72.36h-1.6M517.5 59.07h-1.6M517.5 45.79h-1.6M517.5 32.5h-1.6" stroke="#262626" stroke-width="0.7"/>
<text transform="translate(547.2 79) rotate(-90)" text-anchor="middle" class="t">(MHz)</text>
<text x="445" y="8.9" text-anchor="middle" class="t">(c)</text>
<text x="445" y="17.8" text-anchor="middle" class="t">Longitude</text>
<text x="393" y="28.8" text-anchor="middle" class="t">120°E</text>
<text x="427.67" y="28.8" text-anchor="middle" class="t">130°E</text>
<text x="462.33" y="28.8" text-anchor="middle" class="t">140°E</text>
<text x="497" y="28.8" text-anchor="middle" class="t">150°E</text>
<text x="390.6" y="36.35" text-anchor="end" class="t">50°N</text>
<text x="390.6" y="67.35" text-anchor="end" class="t">40°N</text>
<text x="390.6" y="98.35" text-anchor="end" class="t">30°N</text>
<text x="390.6" y="129.35" text-anchor="end" class="t">20°N</text>
<text transform="translate(370.2 79) rotate(-90)" text-anchor="middle" class="t" style="font-size:8.8px">Latitude</text>
<clipPath id="cd"><rect x="33" y="184.5" width="104" height="93"/></clipPath>
<g clip-path="url(#cd)">
<rect x="33" y="184.5" width="104" height="93" fill="#412dbb"/>
<path d="M29 257.16C29.67 257.15 26.17 257.21 33 257.1C39.83 256.99 58.83 256.6 70 256.5C81.17 256.4 88.83 256.5 100 256.5C111.17 256.5 130.17 256.5 137 256.5C143.83 256.5 140.33 256.5 141 256.5L141 180L29 180Z" fill="#4747eb"/>
<path d="M29 246.26C29.67 246.25 26.17 246.31 33 246.2C39.83 246.09 58.83 245.7 70 245.6C81.17 245.5 88.83 245.6 100 245.6C111.17 245.6 130.17 245.6 137 245.6C143.83 245.6 140.33 245.6 141 245.6L141 180L29 180Z" fill="#347afd"/>
<path d="M29 236.3C29.67 236.28 26.17 236.37 33 236.2C39.83 236.03 58.83 235.45 70 235.3C81.17 235.15 88.83 235.3 100 235.3C111.17 235.3 130.17 235.3 137 235.3C143.83 235.3 140.33 235.3 141 235.3L141 180L29 180Z" fill="#2895ec"/>
<path d="M29 227.93C29.67 227.91 26.17 228.02 33 227.8C39.83 227.58 58.83 226.9 70 226.6C81.17 226.3 88.83 226.15 100 226C111.17 225.85 130.17 225.76 137 225.7C143.83 225.64 140.33 225.67 141 225.67L141 180L29 180Z" fill="#16afd9"/>
<path d="M29 218.8C29.67 218.78 26.17 218.87 33 218.7C39.83 218.53 58.83 218.02 70 217.8C81.17 217.58 88.83 217.53 100 217.4C111.17 217.27 130.17 217.07 137 217C143.83 216.93 140.33 216.96 141 216.96L141 180L29 180Z" fill="#21c1b0"/>
<path d="M29 210.93C29.67 210.91 26.17 211.02 33 210.8C39.83 210.58 58.83 209.92 70 209.6C81.17 209.28 88.83 209.13 100 208.9C111.17 208.67 130.17 208.33 137 208.2C143.83 208.07 140.33 208.14 141 208.12L141 180L29 180Z" fill="#58cc79"/>
<path d="M29 203.19C29.67 203.16 26.17 203.33 33 203C39.83 202.67 58.83 201.57 70 201.2C81.17 200.83 88.83 200.93 100 200.8C111.17 200.67 130.17 200.47 137 200.4C143.83 200.33 140.33 200.36 141 200.36L141 180L29 180Z" fill="#fabb3e"/>
<path d="M29 196.56C29.67 196.52 26.17 196.74 33 196.3C39.83 195.86 58.83 194.4 70 193.9C81.17 193.4 88.83 193.48 100 193.3C111.17 193.12 130.17 192.89 137 192.8C143.83 192.71 140.33 192.75 141 192.75L141 180L29 180Z" fill="#fad42e"/>
<path d="M29 189.56C29.67 189.52 26.17 189.74 33 189.3C39.83 188.86 58.83 187.57 70 186.9C81.17 186.23 88.83 185.78 100 185.3C111.17 184.82 130.17 184.24 137 184C143.83 183.76 140.33 183.88 141 183.86L141 180L29 180Z" fill="#f9fb15"/>
<path d="M29 257.16C29.67 257.15 26.17 257.21 33 257.1C39.83 256.99 58.83 256.6 70 256.5C81.17 256.4 88.83 256.5 100 256.5C111.17 256.5 130.17 256.5 137 256.5C143.83 256.5 140.33 256.5 141 256.5M29 246.26C29.67 246.25 26.17 246.31 33 246.2C39.83 246.09 58.83 245.7 70 245.6C81.17 245.5 88.83 245.6 100 245.6C111.17 245.6 130.17 245.6 137 245.6C143.83 245.6 140.33 245.6 141 245.6M29 236.3C29.67 236.28 26.17 236.37 33 236.2C39.83 236.03 58.83 235.45 70 235.3C81.17 235.15 88.83 235.3 100 235.3C111.17 235.3 130.17 235.3 137 235.3C143.83 235.3 140.33 235.3 141 235.3M29 227.93C29.67 227.91 26.17 228.02 33 227.8C39.83 227.58 58.83 226.9 70 226.6C81.17 226.3 88.83 226.15 100 226C111.17 225.85 130.17 225.76 137 225.7C143.83 225.64 140.33 225.67 141 225.67M29 218.8C29.67 218.78 26.17 218.87 33 218.7C39.83 218.53 58.83 218.02 70 217.8C81.17 217.58 88.83 217.53 100 217.4C111.17 217.27 130.17 217.07 137 217C143.83 216.93 140.33 216.96 141 216.96M29 210.93C29.67 210.91 26.17 211.02 33 210.8C39.83 210.58 58.83 209.92 70 209.6C81.17 209.28 88.83 209.13 100 208.9C111.17 208.67 130.17 208.33 137 208.2C143.83 208.07 140.33 208.14 141 208.12M29 203.19C29.67 203.16 26.17 203.33 33 203C39.83 202.67 58.83 201.57 70 201.2C81.17 200.83 88.83 200.93 100 200.8C111.17 200.67 130.17 200.47 137 200.4C143.83 200.33 140.33 200.36 141 200.36M29 196.56C29.67 196.52 26.17 196.74 33 196.3C39.83 195.86 58.83 194.4 70 193.9C81.17 193.4 88.83 193.48 100 193.3C111.17 193.12 130.17 192.89 137 192.8C143.83 192.71 140.33 192.75 141 192.75M29 189.56C29.67 189.52 26.17 189.74 33 189.3C39.83 188.86 58.83 187.57 70 186.9C81.17 186.23 88.83 185.78 100 185.3C111.17 184.82 130.17 184.24 137 184C143.83 183.76 140.33 183.88 141 183.86" fill="none" stroke="#000" stroke-width="0.7" stroke-opacity="0.85"/>
<path d="M67.67 184.5V277.5M102.33 184.5V277.5M33 215.5H137M33 246.5H137" stroke="#707070" stroke-width="0.5" stroke-opacity="0.3" fill="none"/>
<path d="M29.53 260.76L31.61 259.83L31.27 258.28L33 257.35L32.31 256.11L34.04 255.18L34.73 253.32L36.47 251.77L37.85 250.22L38.2 248.36L39.93 247.12L38.2 245.88L36.47 245.57L39.59 243.71L39.24 242.16L37.51 240.92L39.59 240.92L36.47 239.06L35.77 237.2L34.39 234.72L31.96 232.55L30.23 231.62M31.27 229.45L33 228.52L34.04 227.9L35.43 226.66L38.2 225.42L40.97 225.11L42.01 223.56L39.93 223.25L37.85 222.94L35.77 222.32L33.69 223.25L32.31 224.18L29.53 224.49M29.53 217.05L32.31 215.5L34.73 213.95L37.16 212.71L39.93 213.95L39.24 216.12L38.2 217.36L37.16 219.22L38.55 218.91L40.63 217.67L43.4 216.74L46.17 216.12L48.25 215.81L49.64 216.74L51.37 217.05L51.03 218.91L49.64 219.84L50.33 221.7L52.76 222.01L54.49 222.63L55.88 223.25L56.23 224.8L54.49 225.42L55.53 227.9L55.88 230.07L54.84 231.93L55.88 233.17L58.65 232.24L60.04 231.62L62.47 231.31L64.2 230.69L65.59 229.45L65.93 227.59L65.59 225.42L65.24 223.87L63.51 222.32L62.12 220.46L60.04 218.6L59 217.67L59.69 216.12L62.12 215.19L65.24 213.33L66.97 212.71L66.97 210.85L69.05 208.37L70.44 207.44L71.83 206.51L74.25 205.58L75.99 206.51L78.76 206.82L81.53 205.58L85 203.41L87.08 201.86L89.85 200L92.63 197.52L95.4 195.35L97.13 193.18L99.56 191.32L102.68 189.15L103.72 186.67L104.07 184.5L104.76 182.02M108.92 182.02L109.61 186.05L109.27 189.77L108.92 192.87L109.27 195.35L108.92 196.9L110.65 195.04L112.73 195.04L114.47 196.28L114.12 194.11L112.73 192.56L111.69 190.08L112.39 187.6L113.43 185.74L113.77 182.02M102.33 210.85L102.68 208.68L101.64 207.44L103.37 206.2L104.07 205.27L106.84 205.58L107.88 203.41L108.23 201.55L108.57 198.76L110.65 200L113.43 201.86L116.89 203.1L120.71 202.17L119.67 204.34L121.75 205.27L119.67 206.2L116.55 206.51L113.77 209.3L109.96 208.06L106.49 207.75L104.41 208.06L105.45 209.3L106.49 209.92L104.41 210.23ZM107.19 211.16L107.53 213.95L109.27 217.05L107.88 220.46L105.8 221.08L105.45 224.18L104.41 226.97L105.45 228.83L103.72 230.38L101.64 231.15L101.99 229.14L101.29 230.07L99.21 230.38L98.35 232.24L97.48 231L96.09 232.24L92.63 231.93L91.59 233.17L90.55 233.48L88.47 235.65L86.04 234.72L85.35 233.17L86.39 231.93L83.96 231.62L80.84 232.55L78.07 233.17L75.64 233.48L74.25 234.25L71.13 234.25L72.52 232.86L75.29 230.69L77.37 229.45L80.15 229.45L83.27 229.14L85.69 228.83L88.12 229.14L88.81 227.28L90.89 225.42L91.59 223.56L92.97 223.25L91.93 225.42L93.67 225.11L96.44 224.49L98.52 222.32L100.6 220.46L101.99 217.98L102.33 215.81L101.64 213.95L103.37 211.78L104.76 212.4L106.15 211.78L105.45 210.85ZM70.79 234.41L72.87 235.34L73.56 237.2L74.25 239.37L72.52 242.16L70.09 243.4L68.36 242.47L68.71 240.3L67.67 238.75L66.63 237.82L66.28 236.27L68.36 235.34L69.75 234.41ZM75.99 236.58L77.37 235.03L79.8 234.25L82.23 233.48L83.96 234.1L83.96 234.72L82.23 236.27L80.15 235.96L78.07 237.82L76.68 237.82ZM38.2 261.07L39.93 262L38.55 264.48L37.16 268.2L35.95 271.3L34.04 269.75L33.35 267.58L33.69 265.1L35.43 262.93L36.47 261.69Z" fill="none" stroke="#000" stroke-width="0.75" stroke-linejoin="round"/>
<path d="M122.44 204.34L126.6 201.86L131.45 199.38L135.61 197.21L140.47 195.04" fill="none" stroke="#000" stroke-width="0.9" stroke-dasharray="2.2 1.6"/>
<path d="M59.44 258.13L60.99 256.57M65.47 252L66.39 251.23" fill="none" stroke="#000" stroke-width="1" stroke-linecap="round"/>
</g>
<rect x="33" y="184.5" width="104" height="93" fill="none" stroke="#262626" stroke-width="0.6"/>
<linearGradient id="gd" x1="0" y1="1" x2="0" y2="0"><stop offset="0" stop-color="#3e26a8"/><stop offset="0.25" stop-color="#3e26a8"/><stop offset="0.28" stop-color="#4536d5"/><stop offset="0.31" stop-color="#484cef"/><stop offset="0.34" stop-color="#4562fc"/><stop offset="0.38" stop-color="#347afd"/><stop offset="0.41" stop-color="#2c90f0"/><stop offset="0.44" stop-color="#21a3e3"/><stop offset="0.47" stop-color="#0cb3d3"/><stop offset="0.5" stop-color="#12beb9"/><stop offset="0.53" stop-color="#34c79c"/><stop offset="0.57" stop-color="#5ccc76"/><stop offset="0.6" stop-color="#94ca4a"/><stop offset="0.63" stop-color="#c8c129"/><stop offset="0.66" stop-color="#f1ba37"/><stop offset="0.69" stop-color="#feca33"/><stop offset="0.72" stop-color="#f5e327"/><stop offset="0.76" stop-color="#f9fb15"/><stop offset="1" stop-color="#f9fb15"/></linearGradient>
<rect x="150.5" y="184.5" width="7" height="93" fill="url(#gd)" stroke="#333" stroke-width="0.8"/>
<text x="160.1" y="281.1" class="t">71</text>
<text x="160.1" y="257.85" class="t">72</text>
<text x="160.1" y="234.6" class="t">73</text>
<text x="160.1" y="211.35" class="t">74</text>
<text x="160.1" y="188.1" class="t">75</text>
<path d="M157.5 277.5h-1.6M157.5 254.25h-1.6M157.5 231h-1.6M157.5 207.75h-1.6M157.5 184.5h-1.6" stroke="#262626" stroke-width="0.7"/>
<text transform="translate(176.9 231) rotate(-90)" text-anchor="middle" class="t">(km)</text>
<text x="85" y="160.9" text-anchor="middle" class="t">(d)</text>
<text x="85" y="169.8" text-anchor="middle" class="t">Longitude</text>
<text x="33" y="180.8" text-anchor="middle" class="t">120°E</text>
<text x="67.67" y="180.8" text-anchor="middle" class="t">130°E</text>
<text x="102.33" y="180.8" text-anchor="middle" class="t">140°E</text>
<text x="137" y="180.8" text-anchor="middle" class="t">150°E</text>
<text x="30.6" y="188.35" text-anchor="end" class="t">50°N</text>
<text x="30.6" y="219.35" text-anchor="end" class="t">40°N</text>
<text x="30.6" y="250.35" text-anchor="end" class="t">30°N</text>
<text x="30.6" y="281.35" text-anchor="end" class="t">20°N</text>
<text transform="translate(10.2 231) rotate(-90)" text-anchor="middle" class="t" style="font-size:8.8px">Latitude</text>
<clipPath id="ce"><rect x="213" y="184.5" width="104" height="93"/></clipPath>
<g clip-path="url(#ce)">
<rect x="213" y="184.5" width="104" height="93" fill="#412dbb"/>
<path d="M210.9 267.64C211.25 267.75 211.48 267.82 213 268.3C214.52 268.78 217.67 269.72 220 270.5C222.33 271.28 224.83 272.08 227 273C229.17 273.92 231.67 275.25 233 276C234.33 276.75 234.57 277.18 235 277.5C235.43 277.82 235.5 277.88 235.6 277.95L323 283L323 180L209 180Z" fill="#4743e7"/>
<path d="M211.86 255.45C212.05 255.62 212.18 255.74 213 256.5C213.82 257.26 214.72 258.42 216.8 260C218.88 261.58 222.58 264 225.5 266C228.42 268 231.63 270.08 234.3 272C236.97 273.92 239.94 276.31 241.5 277.5C243.06 278.69 243.3 278.88 243.66 279.15L323 283L323 180L209 180Z" fill="#4367fd"/>
<path d="M210.9 247.8C211.25 248 211.48 248.13 213 249C214.52 249.87 217.25 251.17 220 253C222.75 254.83 226.75 257.83 229.5 260C232.25 262.17 234.13 264 236.5 266C238.87 268 241.67 270.08 243.7 272C245.73 273.92 247.62 276.31 248.7 277.5C249.78 278.69 249.95 278.88 250.2 279.15L323 283L323 180L209 180Z" fill="#2d88f6"/>
<path d="M210.3 239.35C210.75 239.62 211.05 239.81 213 241C214.95 242.19 219 244.58 222 246.5C225 248.42 227.85 250.25 231 252.5C234.15 254.75 238.23 257.75 240.9 260C243.57 262.25 244.95 264 247 266C249.05 268 251.55 270.08 253.2 272C254.85 273.92 256.1 276.31 256.9 277.5C257.7 278.69 257.82 278.88 258.01 279.15L323 283L323 180L209 180Z" fill="#249fe6"/>
<path d="M209.7 230.25C210.25 230.62 210.62 230.88 213 232.5C215.38 234.12 220.38 237.42 224 240C227.62 242.58 231.53 245.67 234.7 248C237.87 250.33 240.23 252 243 254C245.77 256 248.88 258 251.3 260C253.72 262 255.62 264 257.5 266C259.38 268 261.18 270.08 262.6 272C264.02 273.92 265.26 276.31 266 277.5C266.74 278.69 266.85 278.88 267.02 279.15L323 283L323 180L209 180Z" fill="#11b1d6"/>
<path d="M210.45 221.07C210.88 221.38 211.16 221.58 213 222.9C214.84 224.22 218.58 226.82 221.5 229C224.42 231.18 227.67 233.83 230.5 236C233.33 238.17 235.82 240 238.5 242C241.18 244 243.85 246 246.6 248C249.35 250 252.33 252 255 254C257.67 256 260.52 258 262.6 260C264.68 262 266 264 267.5 266C269 268 270.33 270.08 271.6 272C272.87 273.92 274.34 276.31 275.1 277.5C275.86 278.69 275.98 278.88 276.15 279.15L323 283L323 180L209 180Z" fill="#12beb9"/>
<path d="M210.75 210.2C211.12 210.5 211.38 210.7 213 212C214.62 213.3 217.98 216 220.5 218C223.02 220 225.6 222 228.1 224C230.6 226 232.98 228 235.5 230C238.02 232 240.7 234 243.2 236C245.7 238 248.05 240 250.5 242C252.95 244 255.4 246 257.9 248C260.4 250 262.9 252 265.5 254C268.1 256 271.33 258 273.5 260C275.67 262 277 264 278.5 266C280 268 280.92 270.08 282.5 272C284.08 273.92 286.81 276.31 288 277.5C289.19 278.69 289.38 278.88 289.65 279.15L323 283L323 180L209 180Z" fill="#33c69d"/>
<path d="M210.3 188.65C210.75 189.12 211.05 189.44 213 191.5C214.95 193.56 218.77 197.58 222 201C225.23 204.42 228.93 208.17 232.4 212C235.87 215.83 239.03 220 242.8 224C246.57 228 250.58 232 255 236C259.42 240 264.32 244 269.3 248C274.28 252 280.18 256 284.9 260C289.62 264 294.42 269.08 297.6 272C300.78 274.92 302.61 276.31 304 277.5C305.39 278.69 305.6 278.88 305.92 279.15L323 283L323 180L209 180Z" fill="#60cd73"/>
<path d="M230.28 179.85C230.65 180.62 230.9 181.14 232.5 184.5C234.1 187.86 237.63 195.42 239.9 200C242.17 204.58 243.65 208 246.1 212C248.55 216 251.22 220 254.6 224C257.98 228 261.75 232 266.4 236C271.05 240 276.75 244 282.5 248C288.25 252 295.15 256.68 300.9 260C306.65 263.32 313.51 266.19 317 267.9C320.49 269.61 321.02 269.88 321.83 270.27L323 180Z" fill="#c8c129"/>
<path d="M251.87 179.85C251.97 180.62 252.05 181.14 252.5 184.5C252.95 187.86 253.47 195.42 254.6 200C255.73 204.58 257.32 208 259.3 212C261.28 216 263.5 220 266.5 224C269.5 228 272.12 232 277.3 236C282.48 240 290.98 244.98 297.6 248C304.22 251.02 312.8 252.78 317 254.1C321.2 255.42 321.85 255.62 322.82 255.93L323 180Z" fill="#febd3d"/>
<path d="M271.24 179.85C271.2 180.62 271.17 181.14 271 184.5C270.83 187.86 270.18 195.42 270.2 200C270.22 204.58 270.63 208.33 271.1 212C271.57 215.67 271.85 219.08 273 222C274.15 224.92 274.92 227.17 278 229.5C281.08 231.83 285 233.97 291.5 236C298 238.03 311.48 240.46 317 241.7C322.52 242.94 323.38 243.12 324.65 243.41L323 180Z" fill="#f6de29"/>
<path d="M298.5 182.25C298.25 182.62 298.08 182.88 297 184.5C295.92 186.12 293.42 189.42 292 192C290.58 194.58 289.58 197.33 288.5 200C287.42 202.67 286.17 205.67 285.5 208C284.83 210.33 284.5 212 284.5 214C284.5 216 284.77 218.17 285.5 220C286.23 221.83 287.18 223.78 288.9 225C290.62 226.22 293.1 226.73 295.8 227.3C298.5 227.87 301.57 228.15 305.1 228.4C308.63 228.65 314.42 228.71 317 228.8C319.58 228.89 319.98 228.9 320.57 228.92L323 180Z" fill="#f9fb15"/>
<path d="M210.9 267.64C211.25 267.75 211.48 267.82 213 268.3C214.52 268.78 217.67 269.72 220 270.5C222.33 271.28 224.83 272.08 227 273C229.17 273.92 231.67 275.25 233 276C234.33 276.75 234.57 277.18 235 277.5C235.43 277.82 235.5 277.88 235.6 277.95M211.86 255.45C212.05 255.62 212.18 255.74 213 256.5C213.82 257.26 214.72 258.42 216.8 260C218.88 261.58 222.58 264 225.5 266C228.42 268 231.63 270.08 234.3 272C236.97 273.92 239.94 276.31 241.5 277.5C243.06 278.69 243.3 278.88 243.66 279.15M210.9 247.8C211.25 248 211.48 248.13 213 249C214.52 249.87 217.25 251.17 220 253C222.75 254.83 226.75 257.83 229.5 260C232.25 262.17 234.13 264 236.5 266C238.87 268 241.67 270.08 243.7 272C245.73 273.92 247.62 276.31 248.7 277.5C249.78 278.69 249.95 278.88 250.2 279.15M210.3 239.35C210.75 239.62 211.05 239.81 213 241C214.95 242.19 219 244.58 222 246.5C225 248.42 227.85 250.25 231 252.5C234.15 254.75 238.23 257.75 240.9 260C243.57 262.25 244.95 264 247 266C249.05 268 251.55 270.08 253.2 272C254.85 273.92 256.1 276.31 256.9 277.5C257.7 278.69 257.82 278.88 258.01 279.15M209.7 230.25C210.25 230.62 210.62 230.88 213 232.5C215.38 234.12 220.38 237.42 224 240C227.62 242.58 231.53 245.67 234.7 248C237.87 250.33 240.23 252 243 254C245.77 256 248.88 258 251.3 260C253.72 262 255.62 264 257.5 266C259.38 268 261.18 270.08 262.6 272C264.02 273.92 265.26 276.31 266 277.5C266.74 278.69 266.85 278.88 267.02 279.15M210.45 221.07C210.88 221.38 211.16 221.58 213 222.9C214.84 224.22 218.58 226.82 221.5 229C224.42 231.18 227.67 233.83 230.5 236C233.33 238.17 235.82 240 238.5 242C241.18 244 243.85 246 246.6 248C249.35 250 252.33 252 255 254C257.67 256 260.52 258 262.6 260C264.68 262 266 264 267.5 266C269 268 270.33 270.08 271.6 272C272.87 273.92 274.34 276.31 275.1 277.5C275.86 278.69 275.98 278.88 276.15 279.15M210.75 210.2C211.12 210.5 211.38 210.7 213 212C214.62 213.3 217.98 216 220.5 218C223.02 220 225.6 222 228.1 224C230.6 226 232.98 228 235.5 230C238.02 232 240.7 234 243.2 236C245.7 238 248.05 240 250.5 242C252.95 244 255.4 246 257.9 248C260.4 250 262.9 252 265.5 254C268.1 256 271.33 258 273.5 260C275.67 262 277 264 278.5 266C280 268 280.92 270.08 282.5 272C284.08 273.92 286.81 276.31 288 277.5C289.19 278.69 289.38 278.88 289.65 279.15M210.3 188.65C210.75 189.12 211.05 189.44 213 191.5C214.95 193.56 218.77 197.58 222 201C225.23 204.42 228.93 208.17 232.4 212C235.87 215.83 239.03 220 242.8 224C246.57 228 250.58 232 255 236C259.42 240 264.32 244 269.3 248C274.28 252 280.18 256 284.9 260C289.62 264 294.42 269.08 297.6 272C300.78 274.92 302.61 276.31 304 277.5C305.39 278.69 305.6 278.88 305.92 279.15M230.28 179.85C230.65 180.62 230.9 181.14 232.5 184.5C234.1 187.86 237.63 195.42 239.9 200C242.17 204.58 243.65 208 246.1 212C248.55 216 251.22 220 254.6 224C257.98 228 261.75 232 266.4 236C271.05 240 276.75 244 282.5 248C288.25 252 295.15 256.68 300.9 260C306.65 263.32 313.51 266.19 317 267.9C320.49 269.61 321.02 269.88 321.83 270.27M251.87 179.85C251.97 180.62 252.05 181.14 252.5 184.5C252.95 187.86 253.47 195.42 254.6 200C255.73 204.58 257.32 208 259.3 212C261.28 216 263.5 220 266.5 224C269.5 228 272.12 232 277.3 236C282.48 240 290.98 244.98 297.6 248C304.22 251.02 312.8 252.78 317 254.1C321.2 255.42 321.85 255.62 322.82 255.93M271.24 179.85C271.2 180.62 271.17 181.14 271 184.5C270.83 187.86 270.18 195.42 270.2 200C270.22 204.58 270.63 208.33 271.1 212C271.57 215.67 271.85 219.08 273 222C274.15 224.92 274.92 227.17 278 229.5C281.08 231.83 285 233.97 291.5 236C298 238.03 311.48 240.46 317 241.7C322.52 242.94 323.38 243.12 324.65 243.41M298.5 182.25C298.25 182.62 298.08 182.88 297 184.5C295.92 186.12 293.42 189.42 292 192C290.58 194.58 289.58 197.33 288.5 200C287.42 202.67 286.17 205.67 285.5 208C284.83 210.33 284.5 212 284.5 214C284.5 216 284.77 218.17 285.5 220C286.23 221.83 287.18 223.78 288.9 225C290.62 226.22 293.1 226.73 295.8 227.3C298.5 227.87 301.57 228.15 305.1 228.4C308.63 228.65 314.42 228.71 317 228.8C319.58 228.89 319.98 228.9 320.57 228.92" fill="none" stroke="#000" stroke-width="0.7" stroke-opacity="0.85"/>
<path d="M247.67 184.5V277.5M282.33 184.5V277.5M213 215.5H317M213 246.5H317" stroke="#707070" stroke-width="0.5" stroke-opacity="0.3" fill="none"/>
<path d="M209.53 260.76L211.61 259.83L211.27 258.28L213 257.35L212.31 256.11L214.04 255.18L214.73 253.32L216.47 251.77L217.85 250.22L218.2 248.36L219.93 247.12L218.2 245.88L216.47 245.57L219.59 243.71L219.24 242.16L217.51 240.92L219.59 240.92L216.47 239.06L215.77 237.2L214.39 234.72L211.96 232.55L210.23 231.62M211.27 229.45L213 228.52L214.04 227.9L215.43 226.66L218.2 225.42L220.97 225.11L222.01 223.56L219.93 223.25L217.85 222.94L215.77 222.32L213.69 223.25L212.31 224.18L209.53 224.49M209.53 217.05L212.31 215.5L214.73 213.95L217.16 212.71L219.93 213.95L219.24 216.12L218.2 217.36L217.16 219.22L218.55 218.91L220.63 217.67L223.4 216.74L226.17 216.12L228.25 215.81L229.64 216.74L231.37 217.05L231.03 218.91L229.64 219.84L230.33 221.7L232.76 222.01L234.49 222.63L235.88 223.25L236.23 224.8L234.49 225.42L235.53 227.9L235.88 230.07L234.84 231.93L235.88 233.17L238.65 232.24L240.04 231.62L242.47 231.31L244.2 230.69L245.59 229.45L245.93 227.59L245.59 225.42L245.24 223.87L243.51 222.32L242.12 220.46L240.04 218.6L239 217.67L239.69 216.12L242.12 215.19L245.24 213.33L246.97 212.71L246.97 210.85L249.05 208.37L250.44 207.44L251.83 206.51L254.25 205.58L255.99 206.51L258.76 206.82L261.53 205.58L265 203.41L267.08 201.86L269.85 200L272.63 197.52L275.4 195.35L277.13 193.18L279.56 191.32L282.68 189.15L283.72 186.67L284.07 184.5L284.76 182.02M288.92 182.02L289.61 186.05L289.27 189.77L288.92 192.87L289.27 195.35L288.92 196.9L290.65 195.04L292.73 195.04L294.47 196.28L294.12 194.11L292.73 192.56L291.69 190.08L292.39 187.6L293.43 185.74L293.77 182.02M282.33 210.85L282.68 208.68L281.64 207.44L283.37 206.2L284.07 205.27L286.84 205.58L287.88 203.41L288.23 201.55L288.57 198.76L290.65 200L293.43 201.86L296.89 203.1L300.71 202.17L299.67 204.34L301.75 205.27L299.67 206.2L296.55 206.51L293.77 209.3L289.96 208.06L286.49 207.75L284.41 208.06L285.45 209.3L286.49 209.92L284.41 210.23ZM287.19 211.16L287.53 213.95L289.27 217.05L287.88 220.46L285.8 221.08L285.45 224.18L284.41 226.97L285.45 228.83L283.72 230.38L281.64 231.15L281.99 229.14L281.29 230.07L279.21 230.38L278.35 232.24L277.48 231L276.09 232.24L272.63 231.93L271.59 233.17L270.55 233.48L268.47 235.65L266.04 234.72L265.35 233.17L266.39 231.93L263.96 231.62L260.84 232.55L258.07 233.17L255.64 233.48L254.25 234.25L251.13 234.25L252.52 232.86L255.29 230.69L257.37 229.45L260.15 229.45L263.27 229.14L265.69 228.83L268.12 229.14L268.81 227.28L270.89 225.42L271.59 223.56L272.97 223.25L271.93 225.42L273.67 225.11L276.44 224.49L278.52 222.32L280.6 220.46L281.99 217.98L282.33 215.81L281.64 213.95L283.37 211.78L284.76 212.4L286.15 211.78L285.45 210.85ZM250.79 234.41L252.87 235.34L253.56 237.2L254.25 239.37L252.52 242.16L250.09 243.4L248.36 242.47L248.71 240.3L247.67 238.75L246.63 237.82L246.28 236.27L248.36 235.34L249.75 234.41ZM255.99 236.58L257.37 235.03L259.8 234.25L262.23 233.48L263.96 234.1L263.96 234.72L262.23 236.27L260.15 235.96L258.07 237.82L256.68 237.82ZM218.2 261.07L219.93 262L218.55 264.48L217.16 268.2L215.95 271.3L214.04 269.75L213.35 267.58L213.69 265.1L215.43 262.93L216.47 261.69Z" fill="none" stroke="#000" stroke-width="0.75" stroke-linejoin="round"/>
<path d="M302.44 204.34L306.6 201.86L311.45 199.38L315.61 197.21L320.47 195.04" fill="none" stroke="#000" stroke-width="0.9" stroke-dasharray="2.2 1.6"/>
<path d="M239.44 258.13L240.99 256.57M245.47 252L246.39 251.23" fill="none" stroke="#000" stroke-width="1" stroke-linecap="round"/>
</g>
<rect x="213" y="184.5" width="104" height="93" fill="none" stroke="#262626" stroke-width="0.6"/>
<linearGradient id="ge" x1="0" y1="1" x2="0" y2="0"><stop offset="0" stop-color="#3e26a8"/><stop offset="0.25" stop-color="#3e26a8"/><stop offset="0.28" stop-color="#4536d5"/><stop offset="0.31" stop-color="#484cef"/><stop offset="0.34" stop-color="#4562fc"/><stop offset="0.38" stop-color="#347afd"/><stop offset="0.41" stop-color="#2c90f0"/><stop offset="0.44" stop-color="#21a3e3"/><stop offset="0.47" stop-color="#0cb3d3"/><stop offset="0.5" stop-color="#12beb9"/><stop offset="0.53" stop-color="#34c79c"/><stop offset="0.57" stop-color="#5ccc76"/><stop offset="0.6" stop-color="#94ca4a"/><stop offset="0.63" stop-color="#c8c129"/><stop offset="0.66" stop-color="#f1ba37"/><stop offset="0.69" stop-color="#feca33"/><stop offset="0.72" stop-color="#f5e327"/><stop offset="0.76" stop-color="#f9fb15"/><stop offset="1" stop-color="#f9fb15"/></linearGradient>
<rect x="330.5" y="184.5" width="7" height="93" fill="url(#ge)" stroke="#333" stroke-width="0.8"/>
<text x="340.1" y="281.1" class="t">71</text>
<text x="340.1" y="257.85" class="t">72</text>
<text x="340.1" y="234.6" class="t">73</text>
<text x="340.1" y="211.35" class="t">74</text>
<text x="340.1" y="188.1" class="t">75</text>
<path d="M337.5 277.5h-1.6M337.5 254.25h-1.6M337.5 231h-1.6M337.5 207.75h-1.6M337.5 184.5h-1.6" stroke="#262626" stroke-width="0.7"/>
<text transform="translate(356.9 231) rotate(-90)" text-anchor="middle" class="t">(km)</text>
<text x="265" y="160.9" text-anchor="middle" class="t">(e)</text>
<text x="265" y="169.8" text-anchor="middle" class="t">Longitude</text>
<text x="213" y="180.8" text-anchor="middle" class="t">120°E</text>
<text x="247.67" y="180.8" text-anchor="middle" class="t">130°E</text>
<text x="282.33" y="180.8" text-anchor="middle" class="t">140°E</text>
<text x="317" y="180.8" text-anchor="middle" class="t">150°E</text>
<text x="210.6" y="188.35" text-anchor="end" class="t">50°N</text>
<text x="210.6" y="219.35" text-anchor="end" class="t">40°N</text>
<text x="210.6" y="250.35" text-anchor="end" class="t">30°N</text>
<text x="210.6" y="281.35" text-anchor="end" class="t">20°N</text>
<text transform="translate(190.2 231) rotate(-90)" text-anchor="middle" class="t" style="font-size:8.8px">Latitude</text>
<clipPath id="cf"><rect x="393" y="184.5" width="104" height="93"/></clipPath>
<g clip-path="url(#cf)">
<rect x="393" y="184.5" width="104" height="93" fill="#412dbb"/>
<path d="M501 219.7C500.33 219.72 500.5 219.67 497 219.8C493.5 219.93 483.92 219.97 480 220.5C476.08 221.03 474.92 221.25 473.5 223C472.08 224.75 471.45 227.47 471.5 231C471.55 234.53 472.73 240.08 473.8 244.2C474.87 248.32 476.67 252.42 477.9 255.7C479.13 258.98 480.1 260.35 481.2 263.9C482.3 267.45 483.87 274.15 484.5 277C485.13 279.85 484.92 280.33 485 281L387 283L387 179L503 179Z" fill="#4743e7"/>
<path d="M501 207.7C500.33 207.72 500.85 207.63 497 207.8C493.15 207.97 483.23 208.25 477.9 208.7C472.57 209.15 468.15 209.45 465 210.5C461.85 211.55 460.28 213.08 459 215C457.72 216.92 457.58 219.33 457.3 222C457.02 224.67 457.02 227.3 457.3 231C457.58 234.7 458.17 239.82 459 244.2C459.83 248.58 461.2 253.2 462.3 257.3C463.4 261.4 464.78 265.52 465.6 268.8C466.42 272.08 466.88 274.97 467.2 277C467.52 279.03 467.45 280.33 467.5 281L387 283L387 179L503 179Z" fill="#4367fd"/>
<path d="M501 201.2C500.33 201.22 500.85 201.15 497 201.3C493.15 201.45 483.83 201.57 477.9 202.1C471.97 202.63 465.72 203.35 461.4 204.5C457.08 205.65 454.23 207.08 452 209C449.77 210.92 448.75 213.33 448 216C447.25 218.67 447.58 222.5 447.5 225C447.42 227.5 447.37 227.8 447.5 231C447.63 234.2 447.75 239.82 448.3 244.2C448.85 248.58 449.85 253.2 450.8 257.3C451.75 261.4 453.18 265.52 454 268.8C454.82 272.08 455.37 274.97 455.7 277C456.03 279.03 455.95 280.33 456 281L387 283L387 179L503 179Z" fill="#2d8cf3"/>
<path d="M501 194.6C500.33 194.62 500.85 194.55 497 194.7C493.15 194.85 483.83 194.87 477.9 195.5C471.97 196.13 466.05 197.25 461.4 198.5C456.75 199.75 453.07 201.25 450 203C446.93 204.75 444.92 206.67 443 209C441.08 211.33 439.57 214.17 438.5 217C437.43 219.83 436.92 223.67 436.6 226C436.28 228.33 436.47 227.97 436.6 231C436.73 234.03 436.85 240.08 437.4 244.2C437.95 248.32 439.07 251.87 439.9 255.7C440.73 259.53 441.55 263.92 442.4 267.2C443.25 270.48 444.48 273.1 445 275.4C445.52 277.7 445.42 280.07 445.5 281L387 283L387 179L503 179Z" fill="#1caadf"/>
<path d="M501 188.8C500.33 188.82 500.85 188.73 497 188.9C493.15 189.07 483.83 189.12 477.9 189.8C471.97 190.48 466.05 191.72 461.4 193C456.75 194.28 453.57 195.83 450 197.5C446.43 199.17 443 200.92 440 203C437 205.08 434.08 207.17 432 210C429.92 212.83 428.52 216.5 427.5 220C426.48 223.5 426.17 227.52 425.9 231C425.63 234.48 425.48 237.33 425.9 240.9C426.32 244.47 427.3 248.57 428.4 252.4C429.5 256.23 431.13 260.07 432.5 263.9C433.87 267.73 435.85 272.55 436.6 275.4C437.35 278.25 436.93 280.07 437 281L387 283L387 179L503 179Z" fill="#12beb9"/>
<path d="M485 181C483.82 181.6 481.83 183.6 477.9 184.6C473.97 185.6 466.88 185.85 461.4 187C455.92 188.15 449.4 190 445 191.5C440.6 193 438.17 194.08 435 196C431.83 197.92 428.67 200.5 426 203C423.33 205.5 420.83 208.17 419 211C417.17 213.83 415.77 216.67 415 220C414.23 223.33 414.5 227.52 414.4 231C414.3 234.48 413.85 237.33 414.4 240.9C414.95 244.47 416.05 248.57 417.7 252.4C419.35 256.23 422.25 260.07 424.3 263.9C426.35 267.73 428.88 272.55 430 275.4C431.12 278.25 430.83 280.07 431 281L387 283L387 179Z" fill="#48cb86"/>
<path d="M460 181C459.17 181.33 457.5 182 455 183C452.5 184 448.67 185.17 445 187C441.33 188.83 436.67 191.67 433 194C429.33 196.33 425.5 199 423 201C420.5 203 419.83 204.25 418 206C416.17 207.75 413.67 209.83 412 211.5C410.33 213.17 409.2 214.25 408 216C406.8 217.75 405.88 219.5 404.8 222C403.72 224.5 402.1 227.85 401.5 231C400.9 234.15 400.7 237.33 401.2 240.9C401.7 244.47 402.58 248.57 404.5 252.4C406.42 256.23 409.95 260.07 412.7 263.9C415.45 267.73 419.45 272.55 421 275.4C422.55 278.25 421.83 280.07 422 281L387 283L387 179Z" fill="#9fc942"/>
<path d="M446 181C444.67 181.67 441 183.58 438 185C435 186.42 431.33 187.9 428 189.5C424.67 191.1 421.4 192.75 418 194.6C414.6 196.45 410.73 198.5 407.6 200.6C404.47 202.7 401.6 205.03 399.2 207.2C396.8 209.37 394.9 211.72 393.2 213.6C391.5 215.48 389.7 217.68 389 218.5L387 179Z" fill="#eaba30"/>
<path d="M389 264C389.67 264.17 391.23 264.25 393 265C394.77 265.75 397.4 267.03 399.6 268.5C401.8 269.97 404.55 272.3 406.2 273.8C407.85 275.3 408.7 276.3 409.5 277.5C410.3 278.7 410.75 280.42 411 281L387 283Z" fill="#eaba30"/>
<path d="M426 181.5C425.33 181.87 423.33 183.03 422 183.7C420.67 184.37 420.4 184.5 418 185.5C415.6 186.5 410.73 188.18 407.6 189.7C404.47 191.22 401.6 192.85 399.2 194.6C396.8 196.35 394.9 198.55 393.2 200.2C391.5 201.85 389.7 203.78 389 204.5L387 179Z" fill="#fad42e"/>
<path d="M404.5 181C404.32 181.58 404.48 183.58 403.4 184.5C402.32 185.42 399.7 185.8 398 186.5C396.3 187.2 394.7 187.95 393.2 188.7C391.7 189.45 389.7 190.62 389 191L387 179Z" fill="#f9fb15"/>
<path d="M501 219.7C500.33 219.72 500.5 219.67 497 219.8C493.5 219.93 483.92 219.97 480 220.5C476.08 221.03 474.92 221.25 473.5 223C472.08 224.75 471.45 227.47 471.5 231C471.55 234.53 472.73 240.08 473.8 244.2C474.87 248.32 476.67 252.42 477.9 255.7C479.13 258.98 480.1 260.35 481.2 263.9C482.3 267.45 483.87 274.15 484.5 277C485.13 279.85 484.92 280.33 485 281M501 207.7C500.33 207.72 500.85 207.63 497 207.8C493.15 207.97 483.23 208.25 477.9 208.7C472.57 209.15 468.15 209.45 465 210.5C461.85 211.55 460.28 213.08 459 215C457.72 216.92 457.58 219.33 457.3 222C457.02 224.67 457.02 227.3 457.3 231C457.58 234.7 458.17 239.82 459 244.2C459.83 248.58 461.2 253.2 462.3 257.3C463.4 261.4 464.78 265.52 465.6 268.8C466.42 272.08 466.88 274.97 467.2 277C467.52 279.03 467.45 280.33 467.5 281M501 201.2C500.33 201.22 500.85 201.15 497 201.3C493.15 201.45 483.83 201.57 477.9 202.1C471.97 202.63 465.72 203.35 461.4 204.5C457.08 205.65 454.23 207.08 452 209C449.77 210.92 448.75 213.33 448 216C447.25 218.67 447.58 222.5 447.5 225C447.42 227.5 447.37 227.8 447.5 231C447.63 234.2 447.75 239.82 448.3 244.2C448.85 248.58 449.85 253.2 450.8 257.3C451.75 261.4 453.18 265.52 454 268.8C454.82 272.08 455.37 274.97 455.7 277C456.03 279.03 455.95 280.33 456 281M501 194.6C500.33 194.62 500.85 194.55 497 194.7C493.15 194.85 483.83 194.87 477.9 195.5C471.97 196.13 466.05 197.25 461.4 198.5C456.75 199.75 453.07 201.25 450 203C446.93 204.75 444.92 206.67 443 209C441.08 211.33 439.57 214.17 438.5 217C437.43 219.83 436.92 223.67 436.6 226C436.28 228.33 436.47 227.97 436.6 231C436.73 234.03 436.85 240.08 437.4 244.2C437.95 248.32 439.07 251.87 439.9 255.7C440.73 259.53 441.55 263.92 442.4 267.2C443.25 270.48 444.48 273.1 445 275.4C445.52 277.7 445.42 280.07 445.5 281M501 188.8C500.33 188.82 500.85 188.73 497 188.9C493.15 189.07 483.83 189.12 477.9 189.8C471.97 190.48 466.05 191.72 461.4 193C456.75 194.28 453.57 195.83 450 197.5C446.43 199.17 443 200.92 440 203C437 205.08 434.08 207.17 432 210C429.92 212.83 428.52 216.5 427.5 220C426.48 223.5 426.17 227.52 425.9 231C425.63 234.48 425.48 237.33 425.9 240.9C426.32 244.47 427.3 248.57 428.4 252.4C429.5 256.23 431.13 260.07 432.5 263.9C433.87 267.73 435.85 272.55 436.6 275.4C437.35 278.25 436.93 280.07 437 281M485 181C483.82 181.6 481.83 183.6 477.9 184.6C473.97 185.6 466.88 185.85 461.4 187C455.92 188.15 449.4 190 445 191.5C440.6 193 438.17 194.08 435 196C431.83 197.92 428.67 200.5 426 203C423.33 205.5 420.83 208.17 419 211C417.17 213.83 415.77 216.67 415 220C414.23 223.33 414.5 227.52 414.4 231C414.3 234.48 413.85 237.33 414.4 240.9C414.95 244.47 416.05 248.57 417.7 252.4C419.35 256.23 422.25 260.07 424.3 263.9C426.35 267.73 428.88 272.55 430 275.4C431.12 278.25 430.83 280.07 431 281M460 181C459.17 181.33 457.5 182 455 183C452.5 184 448.67 185.17 445 187C441.33 188.83 436.67 191.67 433 194C429.33 196.33 425.5 199 423 201C420.5 203 419.83 204.25 418 206C416.17 207.75 413.67 209.83 412 211.5C410.33 213.17 409.2 214.25 408 216C406.8 217.75 405.88 219.5 404.8 222C403.72 224.5 402.1 227.85 401.5 231C400.9 234.15 400.7 237.33 401.2 240.9C401.7 244.47 402.58 248.57 404.5 252.4C406.42 256.23 409.95 260.07 412.7 263.9C415.45 267.73 419.45 272.55 421 275.4C422.55 278.25 421.83 280.07 422 281M446 181C444.67 181.67 441 183.58 438 185C435 186.42 431.33 187.9 428 189.5C424.67 191.1 421.4 192.75 418 194.6C414.6 196.45 410.73 198.5 407.6 200.6C404.47 202.7 401.6 205.03 399.2 207.2C396.8 209.37 394.9 211.72 393.2 213.6C391.5 215.48 389.7 217.68 389 218.5M389 264C389.67 264.17 391.23 264.25 393 265C394.77 265.75 397.4 267.03 399.6 268.5C401.8 269.97 404.55 272.3 406.2 273.8C407.85 275.3 408.7 276.3 409.5 277.5C410.3 278.7 410.75 280.42 411 281M426 181.5C425.33 181.87 423.33 183.03 422 183.7C420.67 184.37 420.4 184.5 418 185.5C415.6 186.5 410.73 188.18 407.6 189.7C404.47 191.22 401.6 192.85 399.2 194.6C396.8 196.35 394.9 198.55 393.2 200.2C391.5 201.85 389.7 203.78 389 204.5M404.5 181C404.32 181.58 404.48 183.58 403.4 184.5C402.32 185.42 399.7 185.8 398 186.5C396.3 187.2 394.7 187.95 393.2 188.7C391.7 189.45 389.7 190.62 389 191" fill="none" stroke="#000" stroke-width="0.7" stroke-opacity="0.85"/>
<path d="M427.67 184.5V277.5M462.33 184.5V277.5M393 215.5H497M393 246.5H497" stroke="#707070" stroke-width="0.5" stroke-opacity="0.3" fill="none"/>
<path d="M389.53 260.76L391.61 259.83L391.27 258.28L393 257.35L392.31 256.11L394.04 255.18L394.73 253.32L396.47 251.77L397.85 250.22L398.2 248.36L399.93 247.12L398.2 245.88L396.47 245.57L399.59 243.71L399.24 242.16L397.51 240.92L399.59 240.92L396.47 239.06L395.77 237.2L394.39 234.72L391.96 232.55L390.23 231.62M391.27 229.45L393 228.52L394.04 227.9L395.43 226.66L398.2 225.42L400.97 225.11L402.01 223.56L399.93 223.25L397.85 222.94L395.77 222.32L393.69 223.25L392.31 224.18L389.53 224.49M389.53 217.05L392.31 215.5L394.73 213.95L397.16 212.71L399.93 213.95L399.24 216.12L398.2 217.36L397.16 219.22L398.55 218.91L400.63 217.67L403.4 216.74L406.17 216.12L408.25 215.81L409.64 216.74L411.37 217.05L411.03 218.91L409.64 219.84L410.33 221.7L412.76 222.01L414.49 222.63L415.88 223.25L416.23 224.8L414.49 225.42L415.53 227.9L415.88 230.07L414.84 231.93L415.88 233.17L418.65 232.24L420.04 231.62L422.47 231.31L424.2 230.69L425.59 229.45L425.93 227.59L425.59 225.42L425.24 223.87L423.51 222.32L422.12 220.46L420.04 218.6L419 217.67L419.69 216.12L422.12 215.19L425.24 213.33L426.97 212.71L426.97 210.85L429.05 208.37L430.44 207.44L431.83 206.51L434.25 205.58L435.99 206.51L438.76 206.82L441.53 205.58L445 203.41L447.08 201.86L449.85 200L452.63 197.52L455.4 195.35L457.13 193.18L459.56 191.32L462.68 189.15L463.72 186.67L464.07 184.5L464.76 182.02M468.92 182.02L469.61 186.05L469.27 189.77L468.92 192.87L469.27 195.35L468.92 196.9L470.65 195.04L472.73 195.04L474.47 196.28L474.12 194.11L472.73 192.56L471.69 190.08L472.39 187.6L473.43 185.74L473.77 182.02M462.33 210.85L462.68 208.68L461.64 207.44L463.37 206.2L464.07 205.27L466.84 205.58L467.88 203.41L468.23 201.55L468.57 198.76L470.65 200L473.43 201.86L476.89 203.1L480.71 202.17L479.67 204.34L481.75 205.27L479.67 206.2L476.55 206.51L473.77 209.3L469.96 208.06L466.49 207.75L464.41 208.06L465.45 209.3L466.49 209.92L464.41 210.23ZM467.19 211.16L467.53 213.95L469.27 217.05L467.88 220.46L465.8 221.08L465.45 224.18L464.41 226.97L465.45 228.83L463.72 230.38L461.64 231.15L461.99 229.14L461.29 230.07L459.21 230.38L458.35 232.24L457.48 231L456.09 232.24L452.63 231.93L451.59 233.17L450.55 233.48L448.47 235.65L446.04 234.72L445.35 233.17L446.39 231.93L443.96 231.62L440.84 232.55L438.07 233.17L435.64 233.48L434.25 234.25L431.13 234.25L432.52 232.86L435.29 230.69L437.37 229.45L440.15 229.45L443.27 229.14L445.69 228.83L448.12 229.14L448.81 227.28L450.89 225.42L451.59 223.56L452.97 223.25L451.93 225.42L453.67 225.11L456.44 224.49L458.52 222.32L460.6 220.46L461.99 217.98L462.33 215.81L461.64 213.95L463.37 211.78L464.76 212.4L466.15 211.78L465.45 210.85ZM430.79 234.41L432.87 235.34L433.56 237.2L434.25 239.37L432.52 242.16L430.09 243.4L428.36 242.47L428.71 240.3L427.67 238.75L426.63 237.82L426.28 236.27L428.36 235.34L429.75 234.41ZM435.99 236.58L437.37 235.03L439.8 234.25L442.23 233.48L443.96 234.1L443.96 234.72L442.23 236.27L440.15 235.96L438.07 237.82L436.68 237.82ZM398.2 261.07L399.93 262L398.55 264.48L397.16 268.2L395.95 271.3L394.04 269.75L393.35 267.58L393.69 265.1L395.43 262.93L396.47 261.69Z" fill="none" stroke="#000" stroke-width="0.75" stroke-linejoin="round"/>
<path d="M482.44 204.34L486.6 201.86L491.45 199.38L495.61 197.21L500.47 195.04" fill="none" stroke="#000" stroke-width="0.9" stroke-dasharray="2.2 1.6"/>
<path d="M419.44 258.13L420.99 256.57M425.47 252L426.39 251.23" fill="none" stroke="#000" stroke-width="1" stroke-linecap="round"/>
</g>
<rect x="393" y="184.5" width="104" height="93" fill="none" stroke="#262626" stroke-width="0.6"/>
<linearGradient id="gf" x1="0" y1="1" x2="0" y2="0"><stop offset="0" stop-color="#3e26a8"/><stop offset="0.06" stop-color="#4536d5"/><stop offset="0.12" stop-color="#484cef"/><stop offset="0.19" stop-color="#4562fc"/><stop offset="0.25" stop-color="#347afd"/><stop offset="0.31" stop-color="#2c90f0"/><stop offset="0.38" stop-color="#21a3e3"/><stop offset="0.44" stop-color="#0cb3d3"/><stop offset="0.5" stop-color="#12beb9"/><stop offset="0.56" stop-color="#34c79c"/><stop offset="0.62" stop-color="#5ccc76"/><stop offset="0.69" stop-color="#94ca4a"/><stop offset="0.75" stop-color="#c8c129"/><stop offset="0.81" stop-color="#f1ba37"/><stop offset="0.88" stop-color="#feca33"/><stop offset="0.94" stop-color="#f5e327"/><stop offset="1" stop-color="#f9fb15"/></linearGradient>
<rect x="510.5" y="184.5" width="7" height="93" fill="url(#gf)" stroke="#333" stroke-width="0.8"/>
<text x="520.1" y="281.1" class="t">-1.4</text>
<text x="520.1" y="262.5" class="t">-1</text>
<text x="520.1" y="243.9" class="t">-0.6</text>
<text x="520.1" y="225.3" class="t">-0.2</text>
<text x="520.1" y="206.7" class="t">0.2</text>
<text x="520.1" y="188.1" class="t">0.6</text>
<path d="M517.5 277.5h-1.6M517.5 258.9h-1.6M517.5 240.3h-1.6M517.5 221.7h-1.6M517.5 203.1h-1.6M517.5 184.5h-1.6" stroke="#262626" stroke-width="0.7"/>
<text transform="translate(542.4 231) rotate(-90)" text-anchor="middle" class="t">(km)</text>
<text x="445" y="160.9" text-anchor="middle" class="t">(f)</text>
<text x="445" y="169.8" text-anchor="middle" class="t">Longitude</text>
<text x="393" y="180.8" text-anchor="middle" class="t">120°E</text>
<text x="427.67" y="180.8" text-anchor="middle" class="t">130°E</text>
<text x="462.33" y="180.8" text-anchor="middle" class="t">140°E</text>
<text x="497" y="180.8" text-anchor="middle" class="t">150°E</text>
<text x="390.6" y="188.35" text-anchor="end" class="t">50°N</text>
<text x="390.6" y="219.35" text-anchor="end" class="t">40°N</text>
<text x="390.6" y="250.35" text-anchor="end" class="t">30°N</text>
<text x="390.6" y="281.35" text-anchor="end" class="t">20°N</text>
<text transform="translate(370.2 231) rotate(-90)" text-anchor="middle" class="t" style="font-size:8.8px">Latitude</text>
</svg>
</body></html>
